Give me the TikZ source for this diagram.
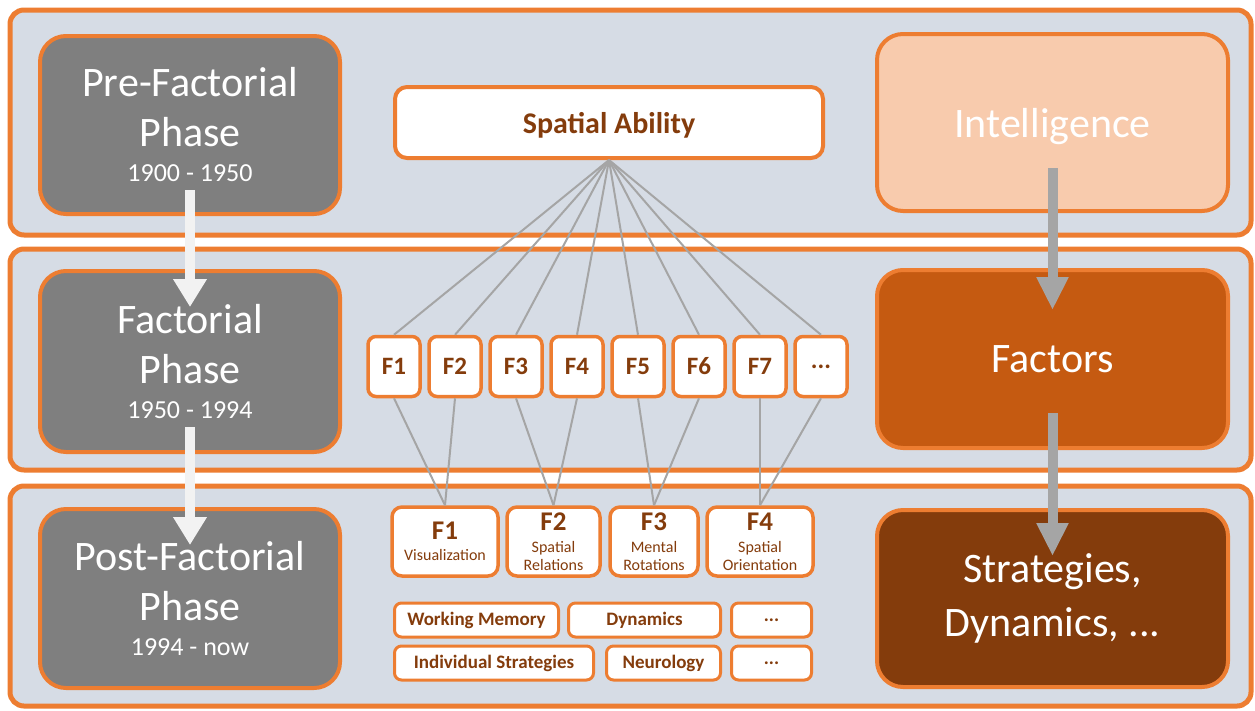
\documentclass[tikz,border=0pt]{standalone}
\usepackage{fontspec}
\setmainfont{Carlito}
\usetikzlibrary{positioning, arrows.meta}

\definecolor{bandfill}{HTML}{D6DCE5}
\definecolor{orangeline}{HTML}{ED7D31}
\definecolor{browntext}{HTML}{843C0C}
\definecolor{phasegray}{HTML}{7F7F7F}
\definecolor{lightorange}{HTML}{F8CBAD}
\definecolor{midorange}{HTML}{C55A11}
\definecolor{darkbrown}{HTML}{843C0C}
\definecolor{linkgray}{HTML}{A5A5A5}
\definecolor{whitearrow}{HTML}{F2F2F2}

\newcommand{\yearfont}{\fontsize{26}{28}\selectfont}
\newcommand{\factorfont}{\fontsize{27}{28}\selectfont\bfseries}
\newcommand{\moredots}{...}

\begin{document}
\begin{tikzpicture}[x=1pt, y=-1pt,
    band/.style={draw=orangeline, fill=bandfill, line width=5pt, rounded corners=14pt},
    bigbox/.style={draw=orangeline, line width=4pt, rounded corners=26pt, minimum width=351pt,
      text=white, align=center, font=\fontsize{42}{54}\selectfont},
    phasebox/.style={bigbox, fill=phasegray, minimum width=300pt, font=\fontsize{42}{50}\selectfont},
    abilitybox/.style={draw=orangeline, fill=white, line width=4pt, rounded corners=12pt,
      text=browntext, font=\fontsize{30}{32}\selectfont\bfseries},
    fbox/.style={draw=orangeline, fill=white, line width=3.5pt, rounded corners=8pt,
      minimum width=52pt, minimum height=60pt, text=browntext, font=\fontsize{25}{28}\selectfont\bfseries},
    gbox/.style={draw=orangeline, fill=white, line width=3.5pt, rounded corners=10pt,
      minimum height=69pt, inner sep=1pt, text=browntext, align=center, font=\fontsize{16}{18}\selectfont},
    topicbox/.style={draw=orangeline, fill=white, line width=3pt, rounded corners=7pt,
      minimum height=34pt, text=browntext, font=\fontsize{19}{22}\selectfont\bfseries},
    link/.style={draw=linkgray, line width=2pt},
    phasearrow/.style={draw=whitearrow, line width=10pt, -{Triangle[width=32pt, length=28pt]}},
    levelarrow/.style={draw=linkgray, line width=10pt, -{Triangle[width=30pt, length=33pt]}}]

    % 範圍
    \useasboundingbox (0,0) rectangle (1255,710);

    % 背景帶
    \draw[band] (10,10) rectangle (1251,235);
    \draw[band] (10,249) rectangle (1251,470);
    \draw[band] (10,486) rectangle (1251,706);

    % 階段
    \node[phasebox, minimum height=178pt] (pre) at (190,125) {Pre-Factorial\\Phase\\[-15pt]{\yearfont 1900 - 1950}};
    \node[phasebox, minimum height=181pt] (fact) at (190,361.5) {Factorial\\Phase\\[-15pt]{\yearfont 1950 - 1994}};
    \node[phasebox, minimum height=179pt] (post) at (190,598.5) {Post-Factorial\\Phase\\[-15pt]{\yearfont 1994 - now}};

    % 右側層級
    \node[bigbox, fill=lightorange, minimum height=177pt, text depth=0pt] (intel) at (1052.5,122.5) {Intelligence};
    \node[bigbox, fill=midorange, minimum height=178pt] (factors) at (1052.5,359) {Factors};
    \node[bigbox, fill=darkbrown, minimum height=177pt] (strat) at (1052.5,598.5) {Strategies,\\Dynamics, ...};

    % 空間能力
    \node[abilitybox, minimum width=428pt, minimum height=71pt, text depth=0pt] (ability) at (609,122.5) {Spatial Ability};

    % 因素
    \foreach \i/\t in {1/F1, 2/F2, 3/F3, 4/F4, 5/F5, 6/F6, 7/F7, 8/\moredots}
      \node[fbox] (f\i) at ({394+61*(\i-1)},366.5) {\t};

    % 主要因素
    \node[gbox, minimum width=106pt] (g1) at (445,541.5) {{\factorfont F1}\\[3pt]Visualization};
    \node[gbox, minimum width=93pt] (g2) at (553.5,541.5) {{\factorfont F2}\\[4pt]Spatial\\Relations};
    \node[gbox, minimum width=88pt] (g3) at (654,541.5) {{\factorfont F3}\\[4pt]Mental\\Rotations};
    \node[gbox, minimum width=106pt] (g4) at (760,541.5) {{\factorfont F4}\\[4pt]Spatial\\Orientation};

    % 主題
    \node[topicbox, minimum width=164pt] (wm) at (476.5,620) {Working Memory};
    \node[topicbox, minimum width=152pt] (dyn) at (644.5,620) {Dynamics};
    \node[topicbox, minimum width=80pt] (more1) at (771.5,620) {...};
    \node[topicbox, minimum width=199pt] (indiv) at (494,663) {Individual Strategies};
    \node[topicbox, minimum width=114pt] (neuro) at (663.5,663) {Neurology};
    \node[topicbox, minimum width=80pt] (more2) at (771.5,663) {...};

    % 連線
    \foreach \i in {1,2,3,4,5,6,7,8}
      \draw[link] (ability.south) -- (f\i.north);
    \foreach \a/\b in {1/1, 2/1, 3/2, 4/2, 5/3, 6/3, 7/4, 8/4}
      \draw[link] (f\a.south) -- (g\b.north);

    % 箭頭
    \draw[phasearrow, shorten <=-26pt, shorten >=-38pt] (pre) -- (fact);
    \draw[phasearrow, shorten <=-27pt, shorten >=-38pt] (fact) -- (post);
    \draw[levelarrow, shorten <=-45pt, shorten >=-42pt] (intel) -- (factors);
    \draw[levelarrow, shorten <=-37pt, shorten >=-48pt] (factors) -- (strat);
  \end{tikzpicture}
\end{document}
